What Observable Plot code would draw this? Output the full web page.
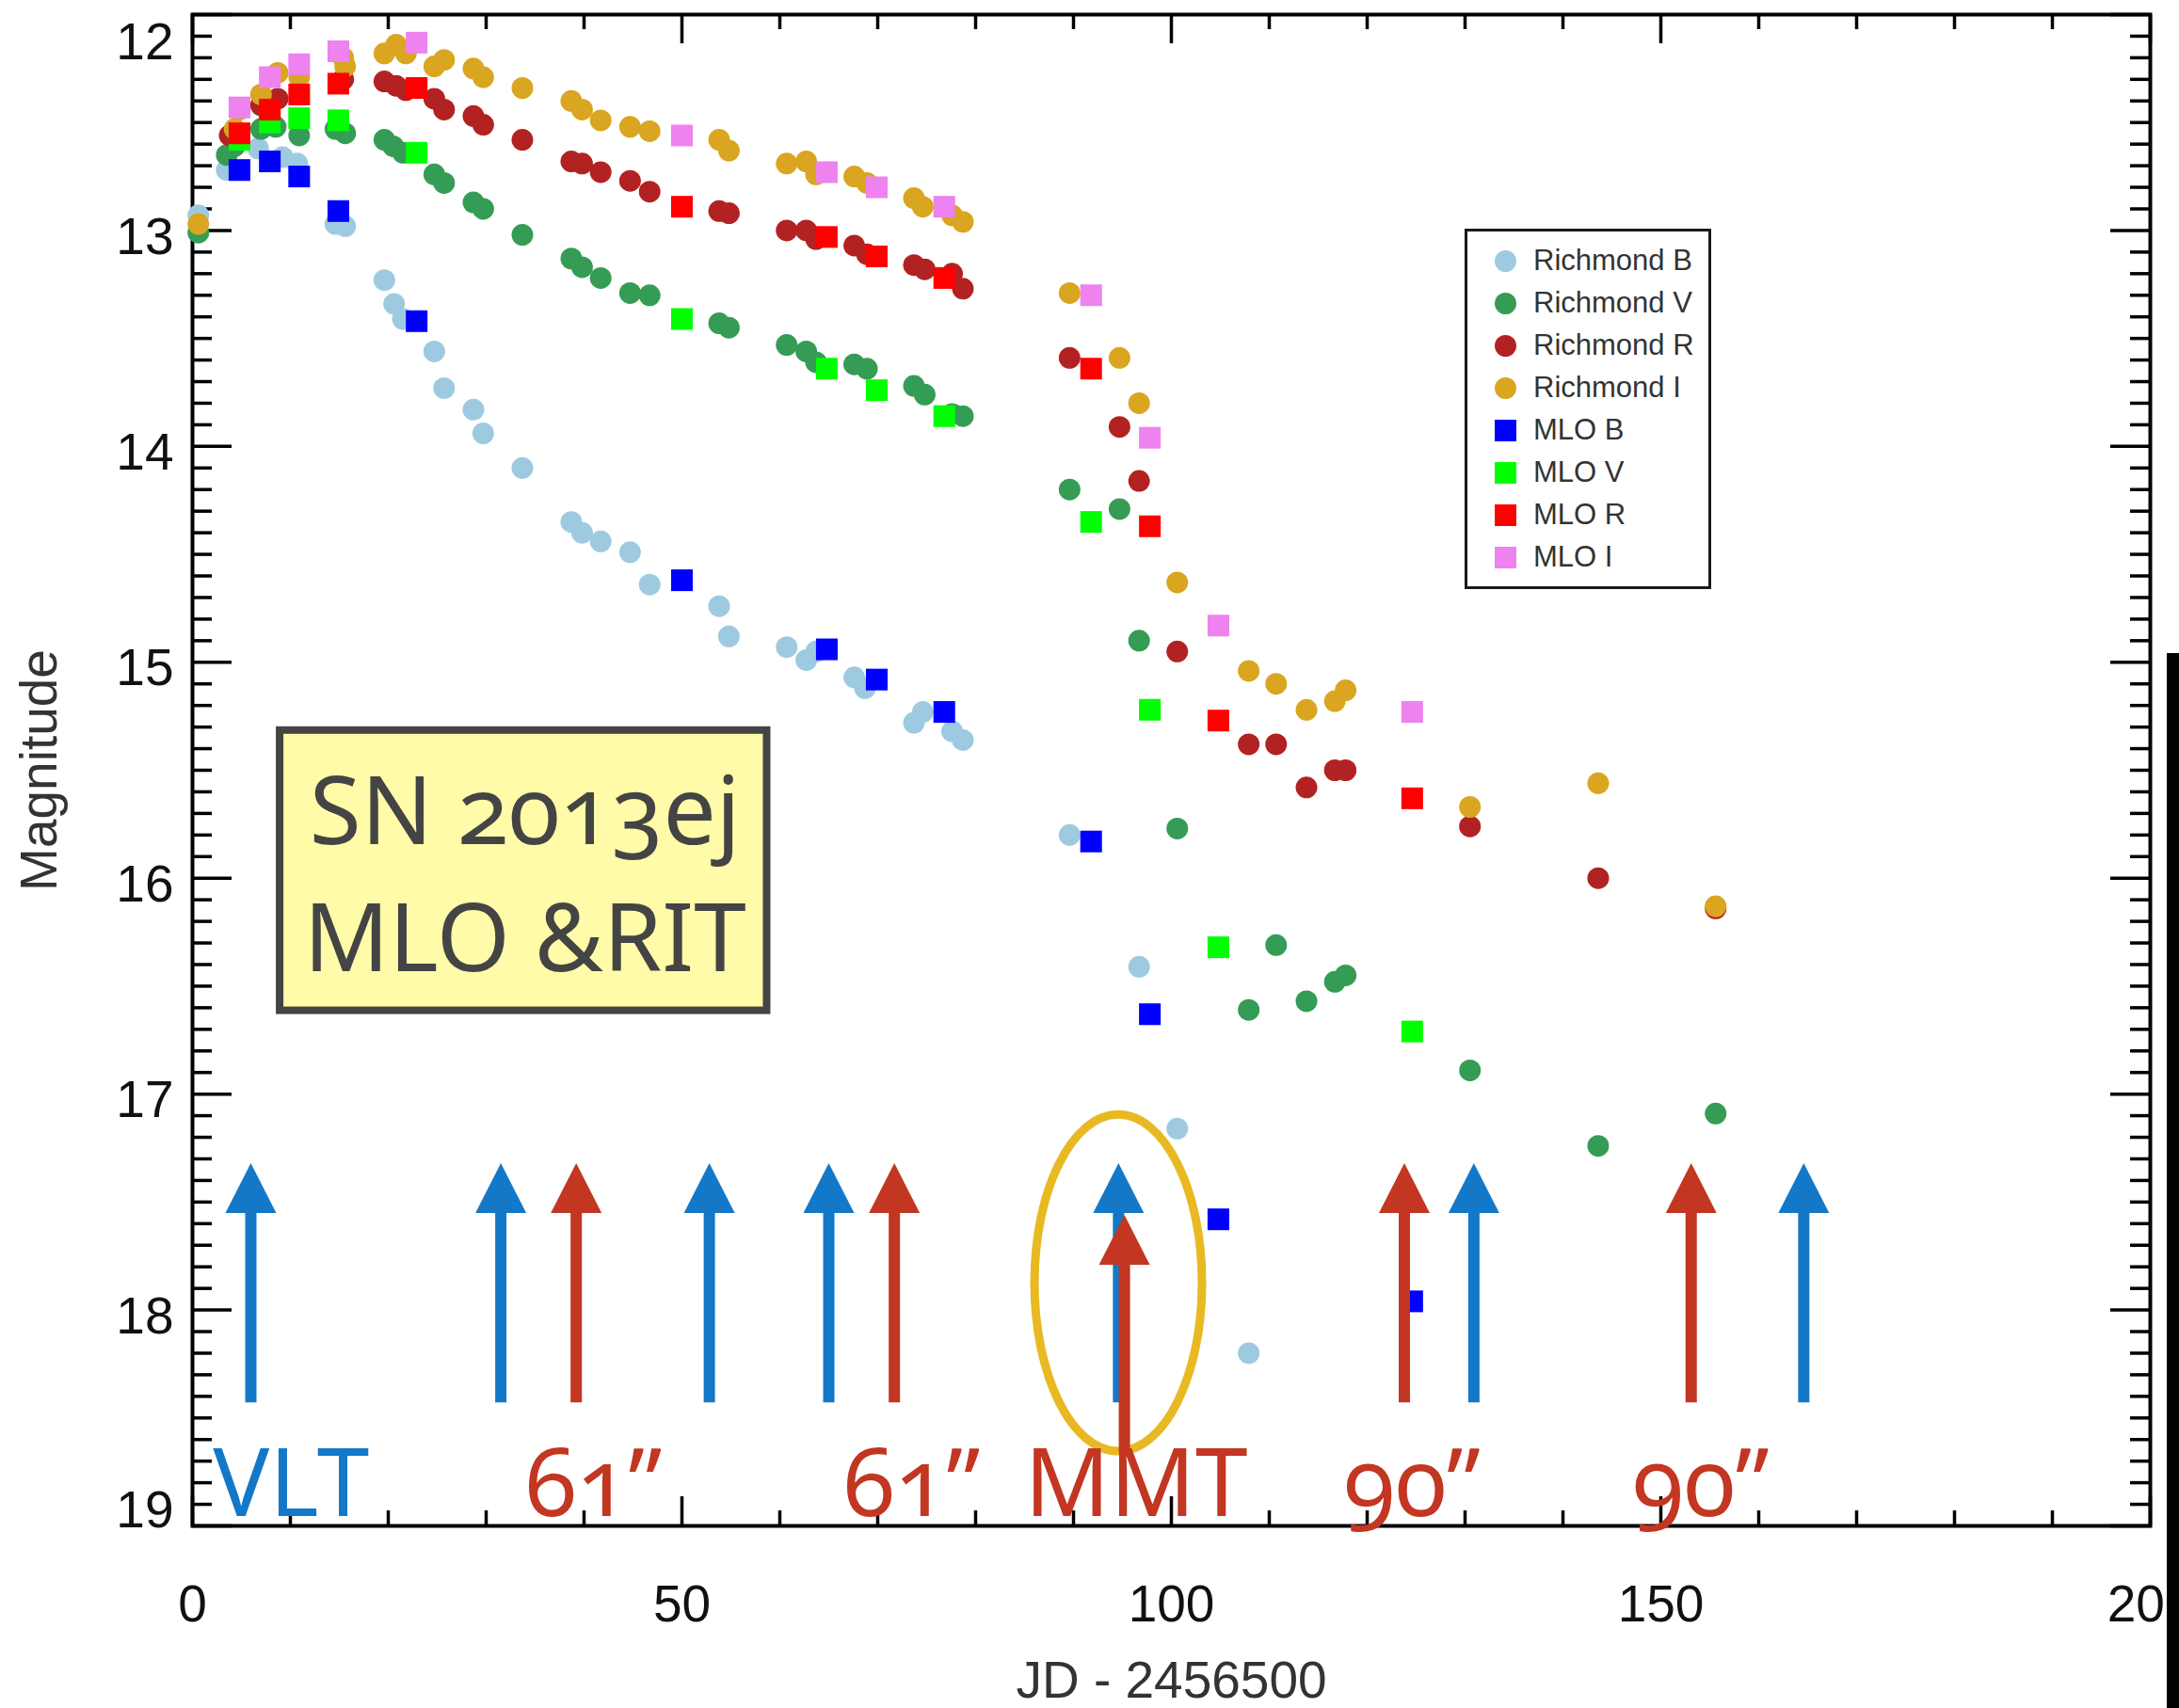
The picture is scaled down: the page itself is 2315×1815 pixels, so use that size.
<!DOCTYPE html>
<html><head><meta charset="utf-8">
<script src="https://cdn.jsdelivr.net/npm/d3@7"></script>
<script src="https://cdn.jsdelivr.net/npm/@observablehq/plot@0.6"></script>
<style>
html,body{margin:0;padding:0;background:#fff;}
#wrap{position:relative;width:2315px;height:1815px;overflow:hidden;background:#fff;}
#wrap svg{position:absolute;left:0;top:0;}
g[font-family*="Noto"] text{font-feature-settings:"onum" 1;font-variant-numeric:oldstyle-nums;}
.legend{position:absolute;left:1556px;top:243px;width:256px;height:377px;border:3px solid #1a1a1a;background:#fff;font-family:"Liberation Sans",Arial,sans-serif;font-size:31px;color:#333;}
.legend .sym{position:absolute;width:23px;height:23px;}
.legend .lab{position:absolute;line-height:1;white-space:nowrap;}
.bar{position:absolute;left:2302px;top:694px;width:13px;height:1121px;background:#000;}
</style></head><body><div id="wrap"></div>
<script>
// ---------------- data ----------------
const richmondB = [[0.6,12.93],[3.5,12.72],[6.7,12.62],[9.2,12.66],[10.7,12.69],[14.6,12.97],[15.6,12.98],[19.6,13.23],[20.6,13.34],[21.5,13.41],[24.7,13.56],[25.7,13.73],[28.7,13.83],[29.7,13.94],[33.7,14.10],[38.7,14.35],[39.8,14.40],[41.7,14.44],[44.7,14.49],[46.7,14.64],[53.8,14.74],[54.8,14.88],[60.7,14.93],[62.7,14.99],[63.7,14.95],[67.6,15.07],[68.7,15.12],[73.7,15.28],[74.6,15.23],[77.6,15.32],[78.7,15.36],[89.6,15.80],[96.7,16.41],[100.6,17.16],[107.9,18.20]];
const richmondV = [[0.6,13.01],[3.5,12.65],[4.3,12.61],[7.0,12.53],[8.5,12.52],[10.9,12.56],[14.6,12.53],[15.6,12.55],[19.6,12.58],[20.5,12.61],[21.5,12.64],[24.7,12.74],[25.7,12.78],[28.7,12.87],[29.7,12.90],[33.7,13.02],[38.7,13.13],[39.8,13.17],[41.7,13.22],[44.7,13.29],[46.7,13.30],[53.8,13.43],[54.8,13.45],[60.7,13.53],[62.7,13.56],[63.7,13.61],[67.6,13.62],[68.9,13.64],[73.7,13.72],[74.8,13.76],[77.6,13.85],[78.7,13.86],[89.6,14.20],[94.7,14.29],[96.7,14.90],[100.6,15.77],[107.9,16.61],[110.7,16.31],[113.8,16.57],[116.7,16.48],[117.8,16.45],[130.5,16.89],[143.6,17.24],[155.6,17.09]];
const richmondR = [[3.8,12.56],[7.0,12.42],[8.7,12.39],[15.4,12.30],[19.6,12.31],[20.8,12.33],[21.8,12.35],[24.7,12.39],[25.7,12.44],[28.7,12.47],[29.7,12.51],[33.7,12.58],[38.7,12.68],[39.8,12.69],[41.7,12.73],[44.7,12.77],[46.7,12.82],[53.8,12.91],[54.8,12.92],[60.7,13.00],[62.7,13.00],[63.7,13.04],[67.6,13.07],[68.9,13.11],[73.7,13.16],[74.8,13.18],[77.6,13.20],[78.7,13.27],[89.6,13.59],[94.7,13.91],[96.7,14.16],[100.6,14.95],[107.9,15.38],[110.7,15.38],[113.8,15.58],[116.7,15.50],[117.8,15.50],[130.5,15.76],[143.6,16.00],[155.6,16.14]];
const richmondI = [[0.6,12.97],[4.3,12.53],[4.8,12.44],[7.0,12.37],[8.7,12.27],[10.9,12.29],[15.4,12.20],[15.6,12.24],[19.6,12.18],[20.8,12.14],[21.8,12.18],[24.7,12.24],[25.7,12.21],[28.7,12.25],[29.7,12.29],[33.7,12.34],[38.7,12.40],[39.8,12.44],[41.7,12.49],[44.7,12.52],[46.7,12.54],[53.8,12.58],[54.8,12.63],[60.7,12.69],[62.7,12.68],[63.7,12.74],[67.6,12.75],[68.9,12.78],[73.7,12.85],[74.6,12.89],[77.6,12.93],[78.7,12.96],[89.6,13.29],[94.7,13.59],[96.7,13.80],[100.6,14.63],[107.9,15.04],[110.7,15.10],[113.8,15.22],[116.7,15.18],[117.8,15.13],[130.5,15.67],[143.6,15.56],[155.6,16.13]];
const mloB = [[4.8,12.72],[7.9,12.68],[10.9,12.75],[14.9,12.91],[22.9,13.42],[50.0,14.62],[64.8,14.94],[69.9,15.08],[76.8,15.23],[91.8,15.83],[97.8,16.63],[104.8,17.58],[124.6,17.96]];
const mloV = [[4.8,12.58],[7.9,12.50],[10.9,12.48],[14.9,12.49],[22.9,12.64],[50.0,13.41],[64.8,13.64],[69.9,13.74],[76.8,13.86],[91.8,14.35],[97.8,15.22],[104.8,16.32],[124.6,16.71]];
const mloR = [[4.8,12.55],[7.9,12.44],[10.9,12.37],[14.9,12.32],[22.9,12.34],[50.0,12.89],[64.8,13.03],[69.9,13.12],[76.8,13.22],[91.8,13.64],[97.8,14.37],[104.8,15.27],[124.6,15.63]];
const mloI = [[4.8,12.43],[7.9,12.29],[10.9,12.23],[14.9,12.17],[22.9,12.13],[50.0,12.56],[64.8,12.73],[69.9,12.80],[76.8,12.89],[91.8,13.30],[97.8,13.96],[104.8,14.83],[124.6,15.23]];

const seriesNames  = ["Richmond B","Richmond V","Richmond R","Richmond I","MLO B","MLO V","MLO R","MLO I"];
const seriesData   = [richmondB, richmondV, richmondR, richmondI, mloB, mloV, mloR, mloI];
const seriesColors = ["#9ecae1","#359c55","#b22222","#daa520","#0000ff","#00ff00","#ff0000","#ee82ee"];
const seriesShapes = ["circle","circle","circle","circle","square","square","square","square"];

const xMajorTicks = [0, 50, 100, 150, 200];
const yMajorTicks = [12, 13, 14, 15, 16, 17, 18, 19];

// observation arrows (telescope epochs)
const arrowX     = [5.96, 31.5, 52.8, 65.0, 94.6, 130.9, 164.6, 39.2, 71.7, 123.8, 153.1, 95.2];
const arrowKind  = ["blue","blue","blue","blue","blue","blue","blue","red","red","red","red","red"];
const arrowTip   = [17.32,17.32,17.32,17.32,17.32,17.32,17.32,17.32,17.32,17.32,17.32,17.56];
const arrowEnd   = [18.43,18.43,18.43,18.43,18.43,18.43,18.43,18.43,18.43,18.43,18.43,18.66];

const labelText  = ["VLT", "61\u201D", "61\u201D", "MMT", "90\u201D", "90\u201D"];
const labelX     = [2.1, 34.0, 66.5, 85.0, 117.6, 147.1];
const labelKind  = ["blue","red","red","red","red","red"];
const labelY     = 18.955;

const boxLines   = ["SN 2013ej", "MLO &RIT"];
const boxLineY   = [15.843, 16.431];
const boxX = [8.95, 58.7], boxY = [15.316, 16.614], boxCenterX = 33.96;

const ellipseCenter = [94.57, 17.874];

// ---------------- layout ----------------
const W = 2315, H = 1815;
const mL = 204, mR = 31, mT = 15, mB = 194;
const plotW = W - mL - mR, plotH = H - mT - mB;
const kindColor = {blue: "#1478c8", red: "#c23622"};

const xMinor = d3.range(10, 200, 10).filter(v => v % 50 !== 0);
const yMinor = d3.range(121, 190, 1).filter(v => v % 10 !== 0).map(v => v / 10);

const rows = seriesData.map((arr, i) => arr.map(([x, y]) => ({x, y, s: seriesNames[i]})));
const arrows = arrowX.map((x, i) => ({x, kind: arrowKind[i], tip: arrowTip[i], end: arrowEnd[i]}));
const labels = labelText.map((t, i) => ({t, x: labelX[i], kind: labelKind[i]}));

const triangle = {draw(ctx, size) { const r = Math.sqrt(size / Math.PI); ctx.moveTo(0, 0); ctx.lineTo(r, 1.96 * r); ctx.lineTo(-r, 1.96 * r); ctx.closePath(); }};
const ellipse = {draw(ctx, size) {
  const rx = Math.sqrt(size / Math.PI), ry = rx * 2.01, k = 0.5523;
  ctx.moveTo(rx, 0);
  ctx.bezierCurveTo(rx, ry * k, rx * k, ry, 0, ry);
  ctx.bezierCurveTo(-rx * k, ry, -rx, ry * k, -rx, 0);
  ctx.bezierCurveTo(-rx, -ry * k, -rx * k, -ry, 0, -ry);
  ctx.bezierCurveTo(rx * k, -ry, rx, -ry * k, rx, 0);
  ctx.closePath();
}};

const tickStyle = {stroke: "#000", strokeWidth: 3.5};
const marks = [
  // ticks (inward)
  Plot.ruleX(xMajorTicks, {x: d => d, insetTop: plotH - 31, ...tickStyle}),
  Plot.ruleX(xMinor, {x: d => d, insetTop: plotH - 16, ...tickStyle}),
  Plot.ruleX(xMajorTicks, {x: d => d, insetBottom: plotH - 31, ...tickStyle}),
  Plot.ruleX(xMinor, {x: d => d, insetBottom: plotH - 16, ...tickStyle}),
  Plot.ruleY(yMajorTicks, {y: d => d, insetRight: plotW - 42, ...tickStyle}),
  Plot.ruleY(yMinor, {y: d => d, insetRight: plotW - 21, ...tickStyle}),
  Plot.ruleY(yMajorTicks, {y: d => d, insetLeft: plotW - 42, ...tickStyle}),
  Plot.ruleY(yMinor, {y: d => d, insetLeft: plotW - 21, ...tickStyle}),
  Plot.frame({stroke: "#000", strokeWidth: 4}),
  // tick labels
  Plot.text(xMajorTicks, {x: d => d, text: d => String(d), frameAnchor: "bottom", dy: 101, lineAnchor: "bottom", fontSize: 55, fill: "#111"}),
  Plot.text(yMajorTicks.filter(v => v > 12 && v < 19), {y: d => d, text: d => String(d), frameAnchor: "left", dx: -20, dy: 7, textAnchor: "end", lineAnchor: "middle", fontSize: 55, fill: "#111"}),
  Plot.text([12], {y: d => d, text: d => String(d), frameAnchor: "left", dx: -20, dy: 30, textAnchor: "end", lineAnchor: "middle", fontSize: 55, fill: "#111"}),
  Plot.text([19], {y: d => d, text: d => String(d), frameAnchor: "left", dx: -20, dy: -16, textAnchor: "end", lineAnchor: "middle", fontSize: 55, fill: "#111"}),
  // axis titles
  Plot.text(["JD - 2456500"], {text: d => d, frameAnchor: "bottom", dy: 182, lineAnchor: "bottom", textAnchor: "middle", fontSize: 55, fill: "#333"}),
  Plot.text(["Magnitude"], {text: d => d, frameAnchor: "left", dx: -145, rotate: -90, lineAnchor: "bottom", textAnchor: "middle", fontSize: 55, fill: "#333"}),
];
// data points
rows.forEach((r, i) => {
  marks.push(Plot.dot(r, {x: "x", y: "y", symbol: seriesShapes[i], r: seriesShapes[i] === "square" ? 13 : 11.5, fill: seriesColors[i], stroke: "none"}));
});
// annotations
marks.push(
  Plot.rect([0], {x1: () => boxX[0], x2: () => boxX[1], y1: () => boxY[0], y2: () => boxY[1], fill: "#fffba8", stroke: "#444", strokeWidth: 8}),
  Plot.text(boxLines, {x: () => boxCenterX, y: (d, i) => boxLineY[i], text: d => d, fontSize: 100, fill: "#444", lineAnchor: "bottom", textAnchor: "middle", fontFamily: "Noto Sans"}),
  Plot.dot([ellipseCenter], {x: d => d[0], y: d => d[1], r: 89, symbol: ellipse, fill: "none", stroke: "#e8b923", strokeWidth: 9}),
  Plot.ruleX(arrows.filter(a => a.kind === "blue"), {x: "x", y1: d => d.tip + 0.15, y2: "end", stroke: kindColor.blue, strokeWidth: 12}),
  Plot.dot(arrows.filter(a => a.kind === "blue"), {x: "x", y: "tip", symbol: triangle, r: 27, fill: kindColor.blue, stroke: "none"}),
  Plot.ruleX(arrows.filter(a => a.kind === "red"), {x: "x", y1: d => d.tip + 0.15, y2: "end", stroke: kindColor.red, strokeWidth: 12}),
  Plot.dot(arrows.filter(a => a.kind === "red"), {x: "x", y: "tip", symbol: triangle, r: 27, fill: kindColor.red, stroke: "none"}),
  Plot.text(labels, {x: "x", y: () => labelY, text: "t", fill: d => kindColor[d.kind], fontSize: 100, textAnchor: "start", lineAnchor: "bottom", fontFamily: "Noto Sans"})
);

const chart = Plot.plot({
  width: W, height: H,
  marginLeft: mL, marginRight: mR, marginTop: mT, marginBottom: mB,
  x: {domain: [0, 200], axis: null},
  y: {domain: [12, 19], reverse: true, axis: null},
  style: {fontFamily: "'Liberation Sans', Arial, sans-serif", background: "#fff", overflow: "visible"},
  marks
});
const wrap = document.getElementById("wrap");
wrap.appendChild(chart);

// legend inside the plot area
const lg = document.createElement("div");
lg.className = "legend";
seriesNames.forEach((name, i) => {
  const cy = 31 + i * 45;
  const s = document.createElement("div");
  s.className = "sym";
  s.style.left = (40 - 11.5) + "px";
  s.style.top = (cy - 11.5) + "px";
  s.style.background = seriesColors[i];
  if (seriesShapes[i] === "circle") s.style.borderRadius = "50%";
  lg.appendChild(s);
  const t = document.createElement("div");
  t.className = "lab";
  t.textContent = name;
  t.style.left = "70px";
  t.style.top = (cy - 16) + "px";
  lg.appendChild(t);
});
wrap.appendChild(lg);
const bar = document.createElement("div");
bar.className = "bar";
wrap.appendChild(bar);
</script></body></html>
